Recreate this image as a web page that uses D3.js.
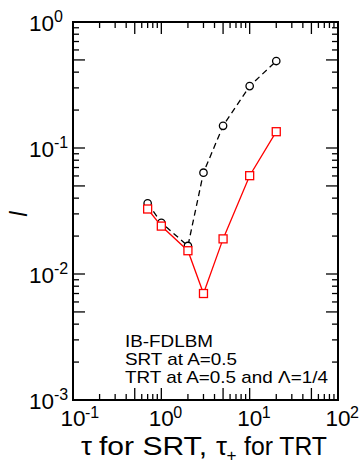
<!DOCTYPE html>
<html><head><meta charset="utf-8">
<script src="https://cdn.jsdelivr.net/npm/d3@7"></script>
<style>body{margin:0;background:#fff}svg{display:block}text{font-family:"Liberation Sans",Arial,sans-serif;fill:#000}</style>
</head><body><svg id="c" width="360" height="467"></svg>
<script>
const tau = [0.7, 1, 2, 3, 5, 10, 20];
const srtValues = [0.0364, 0.0255, 0.0167, 0.0637, 0.150, 0.310, 0.490];
const trtValues = [0.0328, 0.0240, 0.0153, 0.0070, 0.0190, 0.0603, 0.1347];
const xExponents = [-1, 0, 1, 2];
const yExponents = [-3, -2, -1, 0];
const legendLines = ["IB-FDLBM", "SRT at A=0.5", "TRT at A=0.5 and \u039B=1/4"];

const svg = d3.select("#c");
const L = 73, R = 338, T = 22, B = 400;
const x = d3.scaleLog().domain([0.1, 100]).range([L, R]);
const y = d3.scaleLog().domain([0.001, 1]).range([B, T]);

function tickVals(exps) {
  const out = [];
  for (let i = 0; i < exps.length - 1; i++) {
    for (let k = 2; k <= 9; k++) out.push({v: k * Math.pow(10, exps[i]), len: k === 5 ? 12 : 6});
  }
  exps.forEach(e => out.push({v: Math.pow(10, e), len: 12}));
  return out;
}
const xt = tickVals(xExponents), yt = tickVals(yExponents);
const g = svg.append("g").attr("stroke", "#000").attr("stroke-width", 1.3);
xt.forEach(t => {
  const px = x(t.v);
  g.append("line").attr("x1", px).attr("x2", px).attr("y1", B).attr("y2", B - t.len);
  g.append("line").attr("x1", px).attr("x2", px).attr("y1", T).attr("y2", T + t.len);
});
yt.forEach(t => {
  const py = y(t.v);
  g.append("line").attr("x1", L).attr("x2", L + t.len).attr("y1", py).attr("y2", py);
  g.append("line").attr("x1", R).attr("x2", R - t.len).attr("y1", py).attr("y2", py);
});
svg.append("rect").attr("x", L).attr("y", T).attr("width", R - L).attr("height", B - T)
  .attr("fill", "none").attr("stroke", "#000").attr("stroke-width", 2);

xExponents.forEach(e => {
  const px = x(Math.pow(10, e));
  svg.append("text").attr("x", px).attr("y", 426).attr("text-anchor", "middle")
    .attr("font-size", 22.5).text("10");
  svg.append("text").attr("x", px + 12).attr("y", 418).attr("font-size", 16).text(String(e));
});
yExponents.forEach(e => {
  const py = y(Math.pow(10, e));
  svg.append("text").attr("x", 54).attr("y", py + 8.5).attr("text-anchor", "end")
    .attr("font-size", 22.5).text("10");
  svg.append("text").attr("x", 54).attr("y", py).attr("font-size", 16).text(String(e));
});

// x title, pieces fitted to the reference widths
const tY = 455;
function piece(px, py, size, len, txt) {
  svg.append("text").attr("x", px).attr("y", py).attr("font-size", size)
    .attr("textLength", len).attr("lengthAdjust", "spacingAndGlyphs").text(txt);
}
piece(81, tY, 25, 11, "\u03C4");
piece(99, tY, 25, 108, "for SRT,");
piece(216, tY, 25, 11, "\u03C4");
piece(226.5, tY + 6, 16, 10, "+");
piece(244, tY, 25, 83, "for TRT");

svg.append("text").attr("transform", "translate(27,214) rotate(-90)").attr("text-anchor", "middle")
  .attr("font-size", 23).attr("font-style", "italic").text("l");

const line = d3.line().x((d, i) => x(tau[i])).y(d => y(d));
svg.append("path").attr("d", line(srtValues)).attr("fill", "none").attr("stroke", "#000")
  .attr("stroke-width", 1.3).attr("stroke-dasharray", "6,4");
svg.selectAll(".c").data(srtValues).enter().append("circle")
  .attr("cx", (d, i) => x(tau[i])).attr("cy", d => y(d)).attr("r", 3.7)
  .attr("fill", "#fff").attr("stroke", "#000").attr("stroke-width", 1.3);
svg.append("path").attr("d", line(trtValues)).attr("fill", "none").attr("stroke", "#ff0000")
  .attr("stroke-width", 1.3);
svg.selectAll(".s").data(trtValues).enter().append("rect")
  .attr("x", (d, i) => x(tau[i]) - 4).attr("y", d => y(d) - 4).attr("width", 8).attr("height", 8)
  .attr("fill", "#fff").attr("stroke", "#ff0000").attr("stroke-width", 1.3);

const legY = [347, 365, 383];
const legLen = [88, 112, 203];
legendLines.forEach((t, i) => {
  piece(125, legY[i], 17, legLen[i], t);
});
</script></body></html>
